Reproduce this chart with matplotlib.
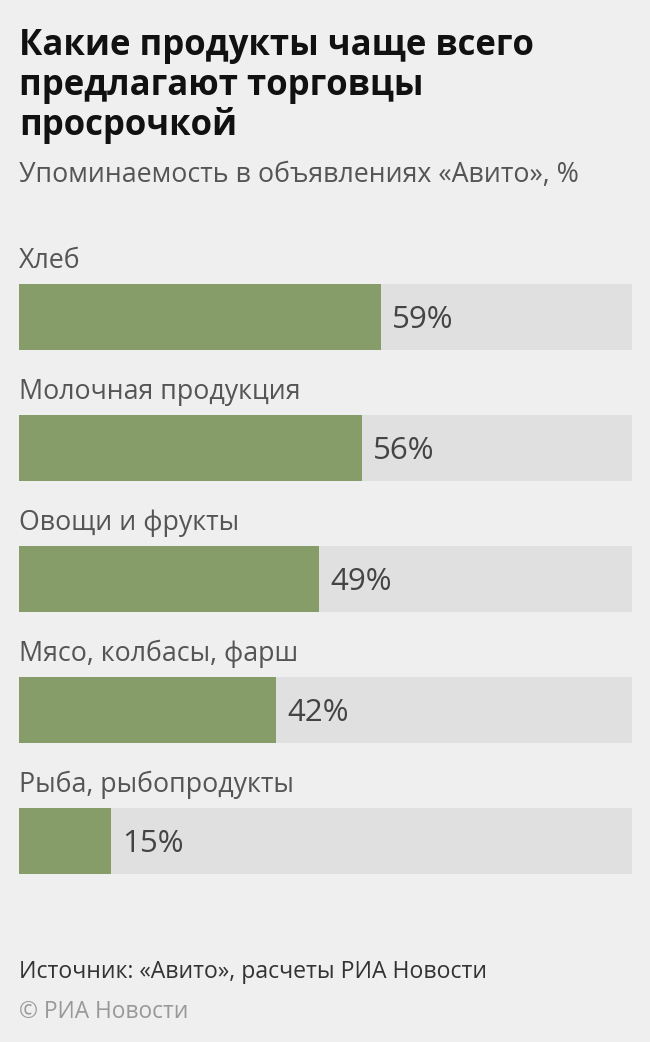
import numpy as np
import matplotlib.pyplot as plt

plt.rcParams['font.family'] = ['Open Sans', 'DejaVu Sans']

categories = ['Хлеб', 'Молочная продукция', 'Овощи и фрукты',
              'Мясо, колбасы, фарш', 'Рыба, рыбопродукты']
values = [59, 56, 49, 42, 15]

title_lines = ['Какие продукты чаще всего', 'предлагают торговцы', 'просрочкой']
subtitle = 'Упоминаемость в объявлениях «Авито», %'
source = 'Источник: «Авито», расчеты РИА Новости'
credit = '© РИА Новости'

W, H = 650, 1042
bg = '#efefef'
green = '#869c69'
track = '#e0e0e0'

fig = plt.figure(figsize=(W / 100, H / 100), dpi=100)
fig.patch.set_facecolor(bg)

# область полос: x 19..632 px, y 251.5..906.5 px
ax = fig.add_axes([19 / W, 1 - 906.5 / H, 613 / W, 655 / H])
ax.set_facecolor(bg)
ax.set_xlim(0, 100)
ax.set_ylim(len(values) - 0.5, -0.5)
ax.axis('off')

y = np.arange(len(values))
bh = 66 / 131
ax.barh(y, [100] * len(values), height=bh, color=track)
ax.barh(y, values, height=bh, color=green)

for i, (cat, v) in enumerate(zip(categories, values)):
    ax.text(0, i - bh / 2 - 16 / 131, cat, fontsize=19.3, color='#555555',
            va='baseline', ha='left')
    ax.text(v + 11 / 6.13, i + 11 / 131, f'{v}%', fontsize=22.5,
            color='#444444', va='baseline', ha='left')

for k, line in enumerate(title_lines):
    fig.text(19 / W, 1 - (55.5 + 39.5 * k) / H, line, fontsize=25,
             fontweight='bold', color='#111111', va='baseline', ha='left')
fig.text(19 / W, 1 - 182 / H, subtitle, fontsize=19.3, color='#555555',
         va='baseline', ha='left')
fig.text(19 / W, 1 - 978 / H, source, fontsize=16.6, color='#333333',
         va='baseline', ha='left')
fig.text(19 / W, 1 - 1018 / H, credit, fontsize=16.4, color='#999999',
         va='baseline', ha='left')

fig.savefig('out.png', dpi=100, facecolor=bg)
